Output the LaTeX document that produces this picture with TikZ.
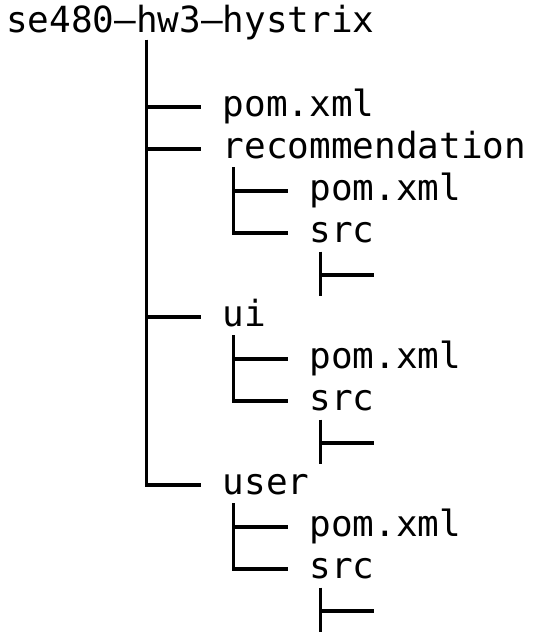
\documentclass[tikz,border=0pt]{standalone}
\usepackage{fontspec}
\setmonofont{DejaVu Sans Mono}
\usetikzlibrary{calc}
\begin{document}
\begin{tikzpicture}[x=1pt,y=-1pt,
  lbl/.style={inner sep=0pt, outer sep=0pt, anchor=base west, font=\ttfamily\fontsize{36}{43}\selectfont},
  tree/.style={line width=3.2pt, black}]
\useasboundingbox (0,0) rectangle (542,642);
\def\xo{6}\def\w{21.67}
% text rows (baselines)
\node[lbl] (root)    at (\xo, 33)          {se480–hw3–hystrix};
\node[lbl] (pomA)    at (\xo+10*\w, 116.5) {pom.xml};
\node[lbl] (rec)     at (\xo+10*\w, 158.5) {recommendation};
\node[lbl] (recpom)  at (\xo+14*\w, 200.5) {pom.xml};
\node[lbl] (recsrc)  at (\xo+14*\w, 242.5) {src};
\node[lbl] (ui)      at (\xo+10*\w, 326.5) {ui};
\node[lbl] (uipom)   at (\xo+14*\w, 368.5) {pom.xml};
\node[lbl] (uisrc)   at (\xo+14*\w, 410.5) {src};
\node[lbl] (user)    at (\xo+10*\w, 494.5) {user};
\node[lbl] (userpom) at (\xo+14*\w, 536.5) {pom.xml};
\node[lbl] (usersrc) at (\xo+14*\w, 578.5) {src};
% main trunk
\coordinate (mainTop) at (\xo+6.5*\w, 40);
\foreach \c in {pomA,rec,ui,user}
  \draw[tree] (mainTop) |- ($(\c.base west)+(-\w,-9.5)$);
% second-level branches
\foreach \p/\a/\b in {rec/recpom/recsrc, ui/uipom/uisrc, user/userpom/usersrc}{
  \coordinate (\p Top) at ($(\p.base west)+(0.5*\w,8.5)$);
  \draw[tree] (\p Top) |- ($(\a.base west)+(-\w,-9.5)$);
  \draw[tree] (\p Top) |- ($(\b.base west)+(-\w,-9.5)$);
}
% third-level stubs under src
\foreach \s in {recsrc,uisrc,usersrc}{
  \coordinate (\s Top) at ($(\s.base west)+(0.5*\w,9)$);
  \coordinate (\s Bot) at ($(\s.base west)+(0.5*\w,53)$);
  \coordinate (\s Mid) at ($(\s.base west)+(0.5*\w,32.5)$);
  \coordinate (\s End) at ($(\s.base west)+(3*\w,32.5)$);
  \draw[tree] (\s Top) -- (\s Bot);
  \draw[tree] (\s Mid) -- (\s End);
}
\end{tikzpicture}
\end{document}
